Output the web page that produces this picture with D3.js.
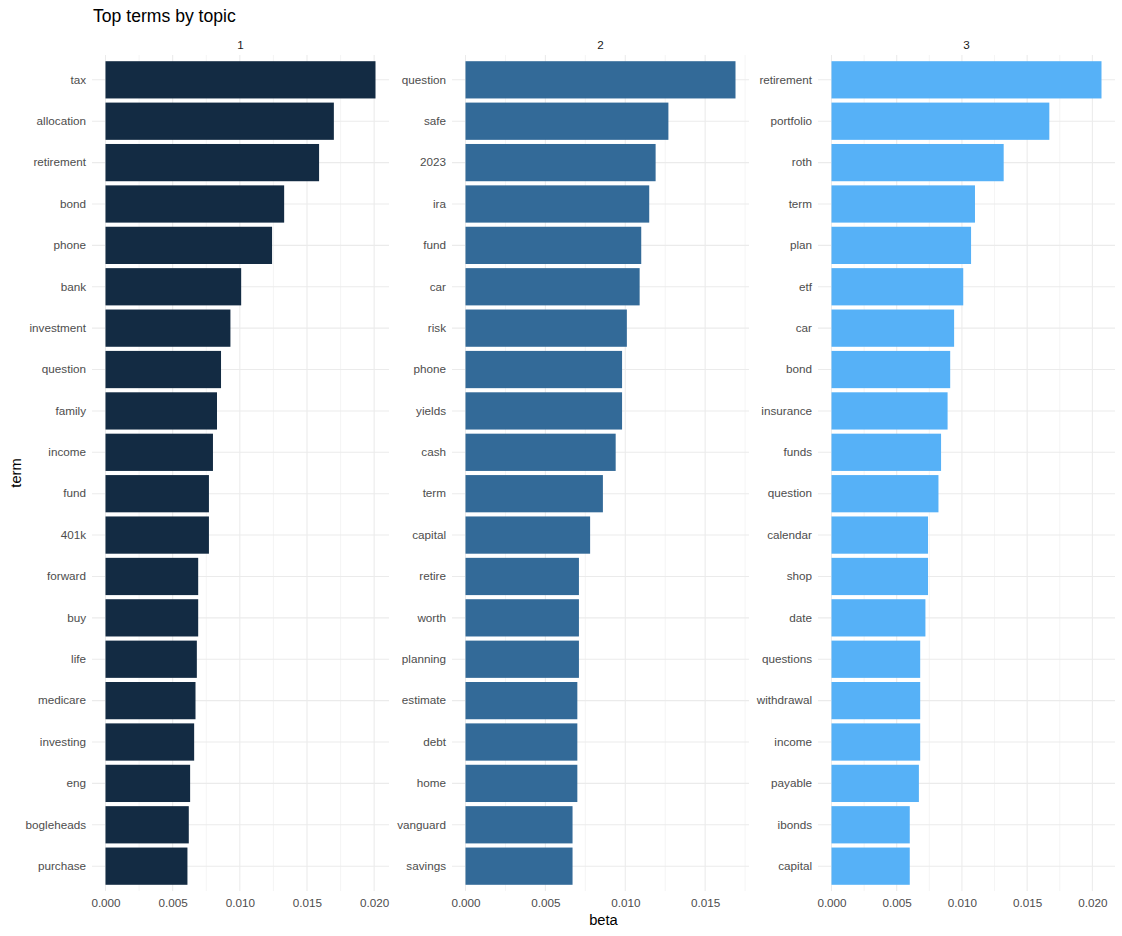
<!DOCTYPE html>
<html>
<head>
<meta charset="utf-8">
<script src="https://cdn.jsdelivr.net/npm/d3@7"></script>
<style>
  body { margin: 0; background: #fff; }
  text { font-family: "Liberation Sans", Arial, sans-serif; }
</style>
</head>
<body>
<script>
// topic labels and fill colours (ggplot continuous default gradient)
const topics = ["1", "2", "3"];
const topicColors = ["#132B43", "#336A98", "#56B1F7"];

// topic 1
const terms1 = ["tax", "allocation", "retirement", "bond", "phone", "bank", "investment", "question", "family", "income",
  "fund", "401k", "forward", "buy", "life", "medicare", "investing", "eng", "bogleheads", "purchase"];
const beta1 = [0.0201, 0.0170, 0.0159, 0.0133, 0.0124, 0.0101, 0.0093, 0.0086, 0.0083, 0.0080,
  0.0077, 0.0077, 0.0069, 0.0069, 0.0068, 0.0067, 0.0066, 0.0063, 0.0062, 0.0061];

// topic 2
const terms2 = ["question", "safe", "2023", "ira", "fund", "car", "risk", "phone", "yields", "cash",
  "term", "capital", "retire", "worth", "planning", "estimate", "debt", "home", "vanguard", "savings"];
const beta2 = [0.0169, 0.0127, 0.0119, 0.0115, 0.0110, 0.0109, 0.0101, 0.0098, 0.0098, 0.0094,
  0.0086, 0.0078, 0.0071, 0.0071, 0.0071, 0.0070, 0.0070, 0.0070, 0.0067, 0.0067];

// topic 3
const terms3 = ["retirement", "portfolio", "roth", "term", "plan", "etf", "car", "bond", "insurance", "funds",
  "question", "calendar", "shop", "date", "questions", "withdrawal", "income", "payable", "ibonds", "capital"];
const beta3 = [0.0207, 0.0167, 0.0132, 0.0110, 0.0107, 0.0101, 0.0094, 0.0091, 0.0089, 0.0084,
  0.0082, 0.0074, 0.0074, 0.0072, 0.0068, 0.0068, 0.0068, 0.0067, 0.0060, 0.0060];

const xTicks = [0, 0.005, 0.010, 0.015, 0.020];

const width = 1122, height = 936;
const panelTop = 55, panelBottom = 891, panelW = 297;
const panelLefts = [92, 452, 818];
const gridCol = "#EBEBEB";

const panels = [
  {terms: terms1, beta: beta1},
  {terms: terms2, beta: beta2},
  {terms: terms3, beta: beta3}
];

const svg = d3.select("body").append("svg")
  .attr("width", width).attr("height", height);

svg.append("text")
  .attr("x", 93).attr("y", 22)
  .attr("font-size", "17.6px").attr("fill", "#000")
  .text("Top terms by topic");

panels.forEach((p, i) => {
  const left = panelLefts[i];
  const maxB = d3.max(p.beta);
  const x = d3.scaleLinear()
    .domain([-0.05 * maxB, 1.05 * maxB])
    .range([left, left + panelW]);
  const y = d3.scaleBand()
    .domain(p.terms)
    .range([panelTop, panelBottom])
    .paddingInner(0.1).paddingOuter(0.15);

  const g = svg.append("g");

  // minor vertical grid
  const majors = xTicks.filter(t => t <= x.domain()[1]);
  const minors = [];
  for (let t = 0.0025; t < x.domain()[1]; t += 0.005) minors.push(t);
  g.selectAll(".minor").data(minors).join("line")
    .attr("x1", d => x(d)).attr("x2", d => x(d))
    .attr("y1", panelTop).attr("y2", panelBottom)
    .attr("stroke", gridCol).attr("stroke-width", 0.55);

  // major vertical grid
  g.selectAll(".major").data(majors).join("line")
    .attr("x1", d => x(d)).attr("x2", d => x(d))
    .attr("y1", panelTop).attr("y2", panelBottom)
    .attr("stroke", gridCol).attr("stroke-width", 1.07);

  // horizontal grid at each term
  g.selectAll(".hgrid").data(p.terms).join("line")
    .attr("x1", left).attr("x2", left + panelW)
    .attr("y1", d => y(d) + y.bandwidth() / 2).attr("y2", d => y(d) + y.bandwidth() / 2)
    .attr("stroke", gridCol).attr("stroke-width", 1.07);

  // bars
  g.selectAll(".bar").data(p.terms).join("rect")
    .attr("x", x(0))
    .attr("y", d => y(d))
    .attr("width", (d, j) => x(p.beta[j]) - x(0))
    .attr("height", y.bandwidth())
    .attr("fill", topicColors[i]);

  // strip label
  svg.append("text")
    .attr("x", left + panelW / 2).attr("y", 49)
    .attr("text-anchor", "middle")
    .attr("font-size", "11.7px").attr("fill", "#1A1A1A")
    .text(topics[i]);

  // axes
  const ax = svg.append("g")
    .attr("transform", `translate(0,${panelBottom})`)
    .call(d3.axisBottom(x).tickValues(majors).tickFormat(d3.format(".3f")).tickSize(0).tickPadding(8));
  const ay = svg.append("g")
    .attr("transform", `translate(${left},0)`)
    .call(d3.axisLeft(y).tickSize(0).tickPadding(6));
  [ax, ay].forEach(a => {
    a.select(".domain").remove();
    a.selectAll("text")
      .attr("font-family", "Liberation Sans, Arial, sans-serif")
      .attr("font-size", "11.7px").attr("fill", "#4D4D4D");
  });
});

// axis titles
svg.append("text")
  .attr("x", (panelLefts[0] + panelLefts[2] + panelW) / 2).attr("y", 925)
  .attr("text-anchor", "middle")
  .attr("font-size", "14.7px").attr("fill", "#000")
  .text("beta");

svg.append("text")
  .attr("transform", `translate(21,${(panelTop + panelBottom) / 2}) rotate(-90)`)
  .attr("text-anchor", "middle")
  .attr("font-size", "14.7px").attr("fill", "#000")
  .text("term");
</script>
</body>
</html>
